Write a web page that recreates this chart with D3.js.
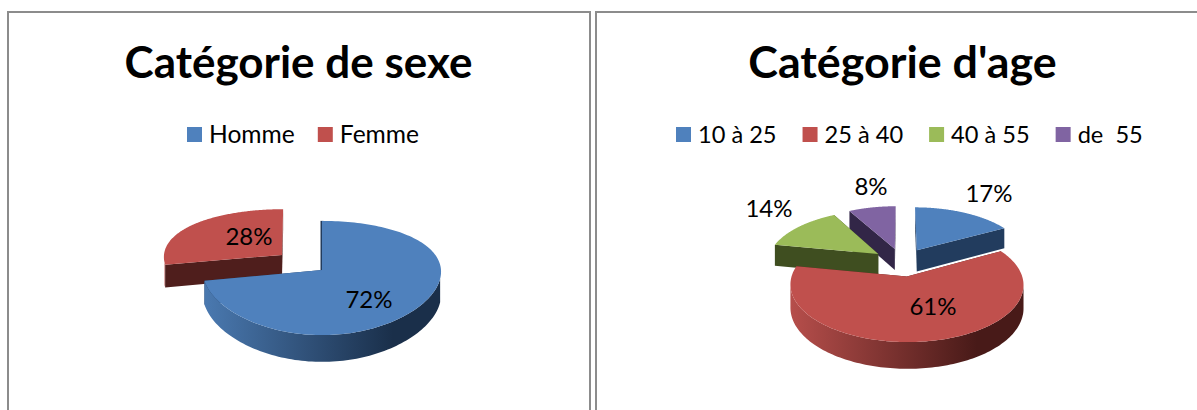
<!DOCTYPE html>
<html>
<head>
<meta charset="utf-8">
<script src="https://cdn.jsdelivr.net/npm/d3@7/dist/d3.min.js"></script>
<style>
  html, body { margin: 0; padding: 0; background: #fff; overflow: hidden; }
  text { font-family: Lato, "Open Sans", sans-serif; fill: #000; }
</style>
</head>
<body>
<svg id="chart" width="1197" height="410"></svg>
<script>
// Survey breakdowns, in percent
const sexCategories = ["Homme", "Femme"];
const sexValues = [72, 28];
const ageCategories = ["10 à 25", "25 à 40", "40 à 55", "de  55"];
const ageValues = [17, 61, 14, 8];

const seriesTop = ["#4f81bd", "#c0504d", "#9bbb59", "#8064a2"];
const seriesCut = ["#223c5e", "#4f1e1c", "#3f4e20", "#322647"];
const seriesWallLight = ["#4a79b0", "#b64e4b", "#8fae52", "#77609a"];
const seriesWallDark = ["#1a2f4a", "#481a18", "#3f4e20", "#322647"];

const svg = d3.select("#chart");
const defs = svg.append("defs");

// Each panel describes its frame, its tilted disc and the text around it
const panels = [
  {
    id: "sexe", title: "Catégorie de sexe", categories: sexCategories, values: sexValues,
    frame: { x: 8, y: 12, w: 582, h: 420 },
    titleX: 298.5, titleSize: 44, legendY: 135, legendX: 187, legendGap: 23, legendSize: 24.6,
    disc: { cx: 322, cy: 270, r: 119, k: 56, depth: 23, px: 0.03, py: 0.14 },
    explode: [0, 0.44],
    drawOrder: [1, 0],
    seamSlice: 0,
    labels: [[369, 300], [249, 237]]
  },
  {
    id: "age", title: "Catégorie d'age", categories: ageCategories, values: ageValues,
    frame: { x: 596, y: 12, w: 660, h: 420 },
    titleX: 902.5, titleSize: 44.8, legendY: 135, legendX: 676, legendGap: 26, legendSize: 23.6,
    disc: { cx: 902, cy: 262, r: 111, k: 52, depth: 22, px: 0.14, py: 0.14 },
    explode: [0.27, 0.27, 0.27, 0.27],
    drawOrder: [3, 2, 0, 1],
    seamSlice: -1,
    labels: [[989, 194], [933, 307], [769, 209], [871, 187]]
  }
];

// Maps a point of the unit disc onto the page with a mild perspective
function projector(d) {
  return (X, Y) => {
    const fx = 1 / (1 - d.px * Y);
    const f = 1 / (1 - d.py * Y);
    return { x: d.cx + X * d.r * fx, y: d.cy + Y * d.k * f, f };
  };
}

const line = d3.line().x(p => p.x).y(p => p.y);
const drop = (p, depth) => ({ x: p.x, y: p.y + depth * p.f });

panels.forEach(panel => {
  const g = svg.append("g").attr("class", "panel-" + panel.id);
  const { frame, disc } = panel;

  g.append("rect")
    .attr("x", frame.x).attr("y", frame.y)
    .attr("width", frame.w).attr("height", frame.h)
    .attr("fill", "#fff").attr("stroke", "#8c8c8c").attr("stroke-width", 2);

  g.append("text")
    .attr("x", panel.titleX).attr("y", 78)
    .attr("text-anchor", "middle")
    .attr("font-size", panel.titleSize).attr("font-weight", 700)
    .text(panel.title);

  // Legend entries flow from left to right
  let cursor = panel.legendX;
  panel.categories.forEach((name, i) => {
    g.append("rect")
      .attr("x", cursor).attr("y", panel.legendY - 8)
      .attr("width", 15).attr("height", 15)
      .attr("fill", seriesTop[i]);
    const t = g.append("text")
      .attr("x", cursor + 22).attr("y", panel.legendY + 8)
      .attr("font-size", panel.legendSize)
      .attr("xml:space", "preserve")
      .text(name);
    cursor += 22 + t.node().getComputedTextLength() + panel.legendGap;
  });

  const arcs = d3.pie().sort(null)(panel.values);
  const project = projector(disc);

  panel.drawOrder.forEach(i => {
    const a = arcs[i];
    const mid = (a.startAngle + a.endAngle) / 2;
    const ox = Math.sin(mid) * panel.explode[i];
    const oy = -Math.cos(mid) * panel.explode[i];
    const angles = d3.range(0, 161).map(s => a.startAngle + (a.endAngle - a.startAngle) * s / 160);
    const rim = angles.map(t => project(ox + Math.sin(t), oy - Math.cos(t)));
    const apex = project(ox, oy);
    const first = rim[0], last = rim[rim.length - 1];

    const sliceG = g.append("g");

    // Both cut faces; the top of the slice hides whatever faces away
    [first, last].forEach(edge => {
      sliceG.append("path")
        .attr("d", line([apex, edge, drop(edge, disc.depth), drop(apex, disc.depth)]) + "Z")
        .attr("fill", seriesCut[i]);
    });

    if (panel.seamSlice === i) {
      sliceG.append("path")
        .attr("d", line([apex, first]))
        .attr("fill", "none").attr("stroke", seriesCut[i]).attr("stroke-width", 3);
    }

    // Outer wall, limited to the part of the rim turned towards the viewer
    const front = angles
      .map((t, s) => ({ t, p: rim[s] }))
      .filter(d => -Math.cos(d.t) >= disc.py)
      .map(d => d.p);
    if (front.length > 1) {
      const gradId = `wall-${panel.id}-${i}`;
      const xs = d3.extent(front, p => p.x);
      const grad = defs.append("linearGradient")
        .attr("id", gradId).attr("gradientUnits", "userSpaceOnUse")
        .attr("x1", xs[0]).attr("x2", xs[1]).attr("y1", 0).attr("y2", 0);
      grad.append("stop").attr("offset", 0).attr("stop-color", seriesWallLight[i]);
      grad.append("stop").attr("offset", 0.8).attr("stop-color", seriesWallDark[i]);
      grad.append("stop").attr("offset", 1).attr("stop-color", seriesWallDark[i]);

      sliceG.append("path")
        .attr("d", line(front.concat(front.slice().reverse().map(p => drop(p, disc.depth)))) + "Z")
        .attr("fill", `url(#${gradId})`);
    }

    sliceG.append("path")
      .attr("d", line([apex, ...rim]) + "Z")
      .attr("fill", seriesTop[i]);
  });

  panel.values.forEach((v, i) => {
    g.append("text")
      .attr("x", panel.labels[i][0]).attr("y", panel.labels[i][1] + 8)
      .attr("text-anchor", "middle")
      .attr("font-size", 24)
      .text(v + "%");
  });
});
</script>
</body>
</html>
